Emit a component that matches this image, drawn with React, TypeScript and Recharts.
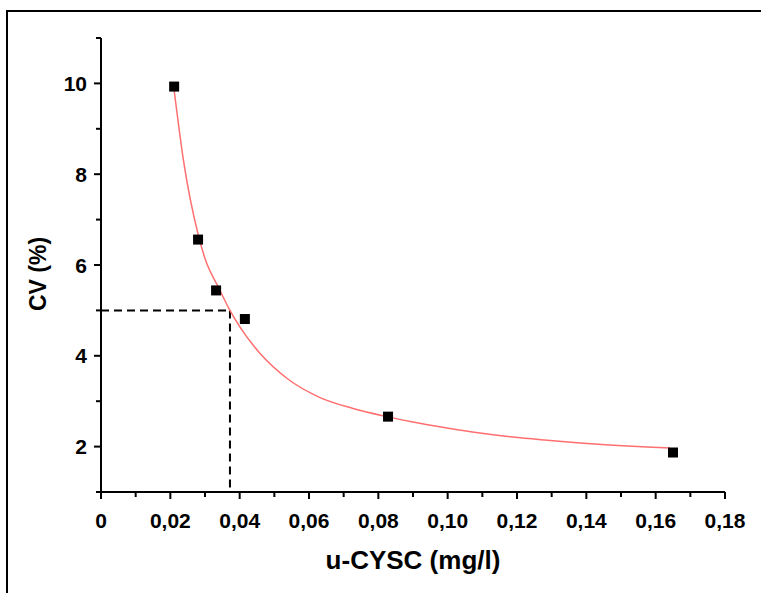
import React from "react";
import { ComposedChart, XAxis, YAxis, Scatter, Line, ReferenceLine, Label } from "recharts";

// measured CV at each u-CYSC level
const measured = [
  { x: 0.0211, y: 9.93 },
  { x: 0.028, y: 6.56 },
  { x: 0.0332, y: 5.44 },
  { x: 0.0415, y: 4.81 },
  { x: 0.0828, y: 2.66 },
  { x: 0.165, y: 1.87 },
];

// fitted precision profile
const fitCurve = [
  { x: 0.0211, y: 9.85 },
  { x: 0.0238, y: 8.3 },
  { x: 0.028, y: 6.68 },
  { x: 0.0301, y: 6.12 },
  { x: 0.0338, y: 5.52 },
  { x: 0.0372, y: 5.0 },
  { x: 0.0401, y: 4.63 },
  { x: 0.0459, y: 4.05 },
  { x: 0.0537, y: 3.5 },
  { x: 0.0632, y: 3.08 },
  { x: 0.0727, y: 2.84 },
  { x: 0.0825, y: 2.66 },
  { x: 0.09, y: 2.54 },
  { x: 0.0998, y: 2.41 },
  { x: 0.1093, y: 2.3 },
  { x: 0.1188, y: 2.21 },
  { x: 0.1287, y: 2.14 },
  { x: 0.1382, y: 2.08 },
  { x: 0.1477, y: 2.03 },
  { x: 0.1575, y: 1.99 },
  { x: 0.1641, y: 1.97 },
];

const xTicks = [0, 0.01, 0.02, 0.03, 0.04, 0.05, 0.06, 0.07, 0.08, 0.09, 0.1, 0.11, 0.12, 0.13, 0.14, 0.15, 0.16, 0.17, 0.18];
const yTicks = [1, 2, 3, 4, 5, 6, 7, 8, 9, 10, 11];

const cutoffCv = 5;
const cutoffConc = 0.0372;

const font = "'Liberation Sans', Arial, sans-serif";

function XTick({ x, y, payload }: any) {
  const v: number = payload.value;
  const major = Math.round(v * 100) % 2 === 0;
  const text = v === 0 ? "0" : v.toFixed(2).replace(".", ",");
  return (
    <g>
      <line x1={x} y1={y} x2={x} y2={y + (major ? 7 : 5)} stroke="#000" strokeWidth={2} />
      {major && (
        <text x={x} y={y + 36} textAnchor="middle" fontFamily={font} fontWeight="bold" fontSize={21} fill="#000">
          {text}
        </text>
      )}
    </g>
  );
}

function YTick({ x, y, payload }: any) {
  const v: number = payload.value;
  const major = v % 2 === 0;
  return (
    <g>
      <line x1={x} y1={y} x2={x - (major ? 7 : 5)} y2={y} stroke="#000" strokeWidth={2} />
      {major && (
        <text x={x - 14} y={y + 7.5} textAnchor="end" fontFamily={font} fontWeight="bold" fontSize={21} fill="#000">
          {v}
        </text>
      )}
    </g>
  );
}

const Square = (props: any) => (
  <rect x={props.cx - 5} y={props.cy - 5} width={10} height={10} fill="#000" />
);

export default function App() {
  return (
    <div style={{ position: "absolute", left: 0, top: 0, width: 761, height: 593, background: "#fff", overflow: "hidden" }}>
      <div
        style={{
          position: "absolute",
          left: 6,
          top: 10,
          width: 800,
          height: 700,
          borderTop: "2px solid #000",
          borderLeft: "2px solid #000",
        }}
      />
      <div style={{ position: "absolute", left: 0, top: 0 }}>
        <ComposedChart width={761} height={593} margin={{ top: 38, right: 36, bottom: 21, left: 41 }}>
          <XAxis
            dataKey="x"
            type="number"
            domain={[0, 0.18]}
            ticks={xTicks}
            interval={0}
            tickSize={0}
            tickMargin={0}
            tickLine={false}
            tick={<XTick />}
            stroke="#000"
            axisLine={{ stroke: "#000", strokeWidth: 2 }}
            height={80}
            allowDataOverflow
          >
            <Label
              content={({ viewBox }: any) => (
                <text
                  x={viewBox.x + viewBox.width / 2}
                  y={viewBox.y + 77}
                  textAnchor="middle"
                  fontFamily={font}
                  fontWeight="bold"
                  fontSize={26}
                  fill="#000"
                >
                  u-CYSC (mg/l)
                </text>
              )}
            />
          </XAxis>
          <YAxis
            dataKey="y"
            type="number"
            domain={[1, 11]}
            ticks={yTicks}
            interval={0}
            tickSize={0}
            tickMargin={0}
            tickLine={false}
            tick={<YTick />}
            stroke="#000"
            axisLine={{ stroke: "#000", strokeWidth: 2 }}
            width={60}
            allowDataOverflow
          >
            <Label
              content={({ viewBox }: any) => {
                const cx = viewBox.x + 5;
                const cy = viewBox.y + viewBox.height / 2 + 9;
                return (
                  <text
                    x={cx}
                    y={cy}
                    transform={`rotate(-90 ${cx} ${cy})`}
                    textAnchor="middle"
                    fontFamily={font}
                    fontWeight="bold"
                    fontSize={23}
                    fill="#000"
                  >
                    CV (%)
                  </text>
                );
              }}
            />
          </YAxis>
          <ReferenceLine
            segment={[{ x: 0, y: cutoffCv }, { x: cutoffConc, y: cutoffCv }]}
            stroke="#000"
            strokeWidth={2}
            strokeDasharray="8 5"
          />
          <ReferenceLine
            segment={[{ x: cutoffConc, y: cutoffCv }, { x: cutoffConc, y: 1 }]}
            stroke="#000"
            strokeWidth={2}
            strokeDasharray="8 5"
          />
          <Line
            data={fitCurve}
            dataKey="y"
            type="monotone"
            dot={false}
            activeDot={false}
            stroke="#ff6f6f"
            strokeWidth={1.5}
            isAnimationActive={false}
          />
          <Scatter data={measured} dataKey="y" shape={<Square />} isAnimationActive={false} />
        </ComposedChart>
      </div>
    </div>
  );
}
